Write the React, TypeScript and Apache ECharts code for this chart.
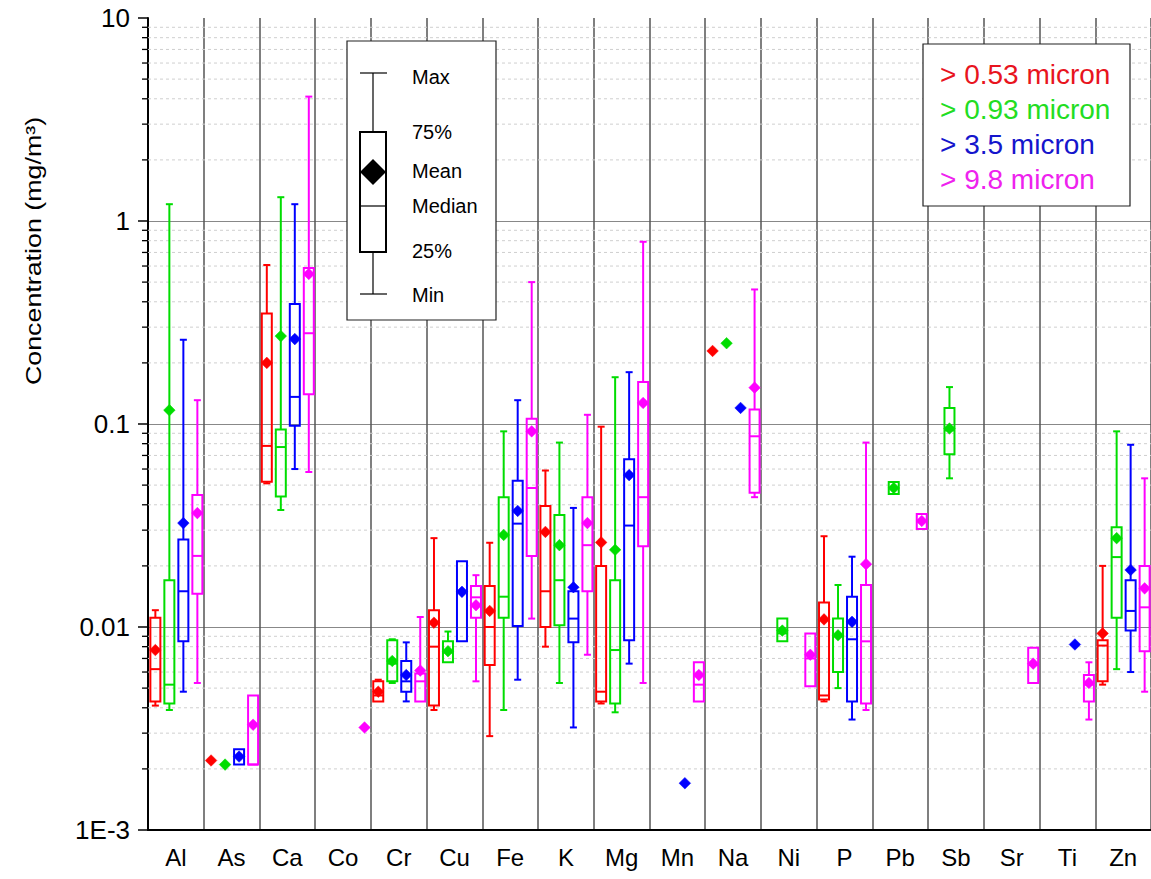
import React, { useEffect, useRef } from 'react';
import * as echarts from 'echarts';

// ---------- data ----------
const categories = ['Al', 'As', 'Ca', 'Co', 'Cr', 'Cu', 'Fe', 'K', 'Mg', 'Mn', 'Na', 'Ni', 'P', 'Pb', 'Sb', 'Sr', 'Ti', 'Zn'];
const yTickValues = [0.001, 0.01, 0.1, 1, 10];
const yTickLabels = ['1E-3', '0.01', '0.1', '1', '10'];
const seriesNames = ['> 0.53 micron', '> 0.93 micron', '> 3.5 micron', '> 9.8 micron'];
const yTitle = 'Concentration (mg/m³)';

// each entry: [min, q1, median, q3, max, mean] | mean only (number) | null
type Stat = number[] | number | null;

const red053: Stat[] = [
  [0.0041, 0.0043, 0.0062, 0.0111, 0.0121, 0.0077], // Al
  0.0022, // As
  [0.051, 0.052, 0.078, 0.35, 0.607, 0.2], // Ca
  null, // Co
  [0.0043, 0.0043, 0.0046, 0.0054, 0.0055, 0.0048], // Cr
  [0.0039, 0.0041, 0.008, 0.0121, 0.0274, 0.0105], // Cu
  [0.0029, 0.0065, 0.01, 0.0159, 0.026, 0.012], // Fe
  [0.008, 0.01, 0.015, 0.0394, 0.059, 0.0294], // K
  [0.0042, 0.0043, 0.0048, 0.02, 0.097, 0.0261], // Mg
  null, // Mn
  0.229, // Na
  null, // Ni
  [0.0043, 0.0044, 0.0046, 0.0132, 0.028, 0.0109], // P
  null, // Pb
  null, // Sb
  null, // Sr
  null, // Ti
  [0.0052, 0.0054, 0.0081, 0.0086, 0.02, 0.0093], // Zn
];

const green093: Stat[] = [
  [0.0039, 0.0042, 0.0052, 0.017, 1.21, 0.117], // Al
  0.0021, // As
  [0.0377, 0.044, 0.077, 0.094, 1.31, 0.271], // Ca
  null, // Co
  [0.0053, 0.0054, 0.0066, 0.0086, 0.0087, 0.0068], // Cr
  [0.0067, 0.0067, 0.0075, 0.0085, 0.0095, 0.0076], // Cu
  [0.0039, 0.0111, 0.0141, 0.0436, 0.092, 0.0284], // Fe
  [0.0053, 0.0102, 0.017, 0.0356, 0.081, 0.0253], // K
  [0.0038, 0.0042, 0.0077, 0.017, 0.17, 0.024], // Mg
  null, // Mn
  0.25, // Na
  [0.0085, 0.0085, 0.0093, 0.011, 0.011, 0.0096], // Ni
  [0.005, 0.006, 0.009, 0.011, 0.0161, 0.0091], // P
  [0.0452, 0.0452, 0.0484, 0.0518, 0.0518, 0.0484], // Pb
  [0.054, 0.071, 0.093, 0.12, 0.152, 0.095], // Sb
  null, // Sr
  null, // Ti
  [0.0062, 0.0111, 0.0221, 0.031, 0.092, 0.0274], // Zn
];

const blue35: Stat[] = [
  [0.0048, 0.0085, 0.015, 0.027, 0.26, 0.0325], // Al
  [0.0021, 0.0021, 0.0023, 0.0025, 0.0025, 0.0023], // As
  [0.06, 0.098, 0.136, 0.39, 1.21, 0.262], // Ca
  null, // Co
  [0.0043, 0.0048, 0.0054, 0.0068, 0.0084, 0.0058], // Cr
  [0.0085, 0.0085, 0.015, 0.0211, 0.0211, 0.0149], // Cu
  [0.0055, 0.0101, 0.0323, 0.0525, 0.131, 0.0373], // Fe
  [0.0032, 0.0084, 0.011, 0.015, 0.0386, 0.0157], // K
  [0.0066, 0.0086, 0.0316, 0.067, 0.18, 0.056], // Mg
  0.0017, // Mn
  0.12, // Na
  null, // Ni
  [0.0035, 0.0043, 0.0087, 0.0141, 0.0222, 0.0106], // P
  null, // Pb
  null, // Sb
  null, // Sr
  0.0082, // Ti
  [0.006, 0.0096, 0.012, 0.017, 0.079, 0.0191], // Zn
];

const magenta98: Stat[] = [
  [0.0053, 0.0146, 0.0224, 0.0447, 0.131, 0.0364], // Al
  [0.0021, 0.0021, 0.0021, 0.0046, 0.0046, 0.0033], // As
  [0.058, 0.14, 0.28, 0.586, 4.1, 0.548], // Ca
  0.0032, // Co
  [0.0043, 0.0043, 0.0054, 0.0059, 0.0112, 0.0061], // Cr
  [0.0054, 0.0111, 0.014, 0.0159, 0.018, 0.0128], // Cu
  [0.011, 0.0224, 0.0484, 0.106, 0.5, 0.092], // Fe
  [0.0073, 0.015, 0.0253, 0.0436, 0.111, 0.0325], // K
  [0.0053, 0.025, 0.0436, 0.161, 0.79, 0.127], // Mg
  [0.0043, 0.0043, 0.0052, 0.0067, 0.0067, 0.0058], // Mn
  [0.0436, 0.0458, 0.087, 0.118, 0.46, 0.151], // Na
  [0.0051, 0.0051, 0.007, 0.0093, 0.0093, 0.0073], // Ni
  [0.0039, 0.0042, 0.0085, 0.0161, 0.081, 0.0204], // P
  [0.0304, 0.0304, 0.0333, 0.036, 0.036, 0.0333], // Pb
  null, // Sb
  [0.0053, 0.0053, 0.0065, 0.0079, 0.0079, 0.0066], // Sr
  [0.0035, 0.0043, 0.0052, 0.0058, 0.0067, 0.0053], // Ti
  [0.0048, 0.0076, 0.0125, 0.02, 0.054, 0.0155], // Zn
];

const allSeries = [red053, green093, blue35, magenta98];
const colors = ['#ff0000', '#00dd00', '#0000ff', '#ff00ff'];
const textColors = ['#e8141e', '#22dd22', '#1515cc', '#ee22ee'];
const offsetsPx = [-20.5, -6.5, 7.5, 21.5]; // offsets inside a 55.7px category band

const FONT = 'Liberation Sans, Arial, Helvetica, sans-serif';

function App() {
  const ref = useRef<HTMLDivElement>(null);

  useEffect(() => {
    if (!ref.current) return;
    const chart = echarts.init(ref.current, null, { renderer: 'svg' });

    // minor log ticks 2..9 of each decade (axis decoration)
    const minorVals: number[] = [];
    for (let e = -3; e < 1; e++) {
      for (let m = 2; m <= 9; m++) minorVals.push(Number((m * Math.pow(10, e)).toPrecision(6)));
    }

    const minorSeries: any = {
      type: 'custom',
      silent: true,
      clip: false,
      z: 1,
      data: minorVals.map((v) => [0, v]),
      encode: { x: 0, y: 1 },
      renderItem: (params: any, api: any) => {
        const p = api.coord([0, api.value(1)]);
        const bw = api.size([1, 0])[0];
        const left = p[0] - bw / 2;
        const right = left + bw * categories.length;
        return {
          type: 'group',
          children: [
            {
              type: 'line',
              shape: { x1: left, y1: p[1], x2: right, y2: p[1] },
              style: { stroke: '#cfcfcf', lineWidth: 1, lineDash: [3, 3] },
            },
            {
              type: 'line',
              shape: { x1: left - 6, y1: p[1], x2: left, y2: p[1] },
              style: { stroke: '#000', lineWidth: 1.3 },
            },
          ],
        };
      },
    };

    const boxSeries = allSeries.map((list, k) => {
      const data: number[][] = [];
      list.forEach((s, i) => {
        if (s == null) return;
        if (typeof s === 'number') data.push([i, s, s, s, s, s, s, 0]);
        else data.push([i, s[0], s[1], s[2], s[3], s[4], s[5], 1]);
      });
      return {
        type: 'custom',
        name: seriesNames[k],
        z: 3 + k,
        data,
        encode: { x: 0, y: [1, 2, 3, 4, 5, 6] },
        renderItem: (params: any, api: any) => {
          const i = api.value(0);
          const bw = api.size([1, 0])[0];
          const base = api.coord([i, 1]);
          const cx = base[0] + (offsetsPx[k] * bw) / 55.72;
          const y = (v: number) => api.coord([i, v])[1];
          const color = colors[k];
          const children: any[] = [];
          const lw = 2;
          if (api.value(7) === 1) {
            const yMin = y(api.value(1));
            const yQ1 = y(api.value(2));
            const yMed = y(api.value(3));
            const yQ3 = y(api.value(4));
            const yMax = y(api.value(5));
            const half = 5;
            const cap = 3.5;
            const st = { stroke: color, lineWidth: lw };
            if (yMax < yQ3 - 0.5) {
              children.push({ type: 'line', shape: { x1: cx, y1: yMax, x2: cx, y2: yQ3 }, style: st });
              children.push({ type: 'line', shape: { x1: cx - cap, y1: yMax, x2: cx + cap, y2: yMax }, style: st });
            }
            if (yMin > yQ1 + 0.5) {
              children.push({ type: 'line', shape: { x1: cx, y1: yQ1, x2: cx, y2: yMin }, style: st });
              children.push({ type: 'line', shape: { x1: cx - cap, y1: yMin, x2: cx + cap, y2: yMin }, style: st });
            }
            children.push({
              type: 'rect',
              shape: { x: cx - half, y: yQ3, width: half * 2, height: Math.max(yQ1 - yQ3, 1) },
              style: { fill: 'transparent', stroke: color, lineWidth: lw },
            });
            children.push({ type: 'line', shape: { x1: cx - half, y1: yMed, x2: cx + half, y2: yMed }, style: st });
          }
          const ym = y(api.value(6));
          const d = 5.8;
          children.push({
            type: 'polygon',
            shape: { points: [[cx, ym - d], [cx + d, ym], [cx, ym + d], [cx - d, ym]] },
            style: { fill: color, stroke: color, lineWidth: 0.5 },
          });
          return { type: 'group', children };
        },
      };
    });

    // legend graphics
    const keyX = 373;
    const keyText = [
      ['Max', 77],
      ['75%', 132],
      ['Mean', 171],
      ['Median', 206],
      ['25%', 251],
      ['Min', 295],
    ];
    const graphic: any[] = [
      {
        type: 'text',
        x: 33,
        y: 251,
        rotation: Math.PI / 2,
        scaleX: 1.22,
        z: 102,
        style: { text: yTitle, fontSize: 22, fontFamily: FONT, fill: '#000', align: 'center', verticalAlign: 'middle' },
      },
      {
        type: 'rect',
        shape: { x: 347, y: 41, width: 149, height: 279 },
        style: { fill: '#fff', stroke: '#222', lineWidth: 1.2 },
        z: 100,
      },
      { type: 'line', shape: { x1: keyX, y1: 73, x2: keyX, y2: 132 }, style: { stroke: '#000', lineWidth: 1.2 }, z: 101 },
      { type: 'line', shape: { x1: keyX, y1: 252, x2: keyX, y2: 294 }, style: { stroke: '#000', lineWidth: 1.2 }, z: 101 },
      { type: 'line', shape: { x1: 360, y1: 73, x2: 387, y2: 73 }, style: { stroke: '#000', lineWidth: 1.2 }, z: 101 },
      { type: 'line', shape: { x1: 360, y1: 294, x2: 387, y2: 294 }, style: { stroke: '#000', lineWidth: 1.2 }, z: 101 },
      {
        type: 'rect',
        shape: { x: 360, y: 132, width: 26, height: 120 },
        style: { fill: 'transparent', stroke: '#000', lineWidth: 2 },
        z: 101,
      },
      { type: 'line', shape: { x1: 360, y1: 206, x2: 386, y2: 206 }, style: { stroke: '#000', lineWidth: 1.2 }, z: 101 },
      {
        type: 'polygon',
        shape: { points: [[keyX, 159], [keyX + 13, 172], [keyX, 185], [keyX - 13, 172]] },
        style: { fill: '#000' },
        z: 102,
      },
      ...keyText.map(([t, yy]) => ({
        type: 'text',
        x: 412,
        y: yy as number,
        z: 102,
        style: { text: t as string, fontSize: 20, fontFamily: FONT, fill: '#000', verticalAlign: 'middle', align: 'left' },
      })),
      {
        type: 'rect',
        shape: { x: 923, y: 44, width: 207, height: 162 },
        style: { fill: '#fff', stroke: '#222', lineWidth: 1.2 },
        z: 100,
      },
      ...seriesNames.map((n, k) => ({
        type: 'text',
        x: 940,
        y: 74 + k * 35,
        z: 102,
        style: { text: n, fontSize: 28, fontFamily: FONT, fill: textColors[k], verticalAlign: 'middle', align: 'left' },
      })),
    ];

    chart.setOption({
      animation: false,
      backgroundColor: '#fff',
      textStyle: { fontFamily: FONT },
      grid: { left: 148, right: 0, top: 18, bottom: 49, containLabel: false },
      xAxis: {
        type: 'category',
        data: categories,
        boundaryGap: true,
        axisLine: { show: true, lineStyle: { color: '#000', width: 2 } },
        axisTick: { show: false },
        axisLabel: { interval: 0, fontSize: 24, color: '#000', margin: 15, fontFamily: FONT },
        splitLine: { show: true, interval: 0, lineStyle: { color: '#555', width: 1.5 } },
      },
      yAxis: {
        type: 'log',
        logBase: 10,
        min: 0.001,
        max: 10,
        splitNumber: 4,
        axisLine: { show: true, lineStyle: { color: '#000', width: 2 } },
        axisTick: { show: true, length: 10, lineStyle: { color: '#000', width: 1.5 } },
        axisLabel: {
          fontSize: 26,
          color: '#000',
          margin: 18,
          fontFamily: FONT,
          formatter: (v: number) => {
            const e = Math.round(Math.log10(v));
            const idx = yTickValues.findIndex((t) => Math.round(Math.log10(t)) === e);
            return idx >= 0 ? yTickLabels[idx] : '';
          },
        },
        splitLine: { show: true, showMaxLine: false, lineStyle: { color: '#888', width: 1 } },
      },
      series: [minorSeries, ...boxSeries],
      graphic,
    });

    return () => chart.dispose();
  }, []);

  return <div ref={ref} style={{ position: 'fixed', left: 0, top: 0, width: 1151, height: 879 }} />;
}

export default App;
